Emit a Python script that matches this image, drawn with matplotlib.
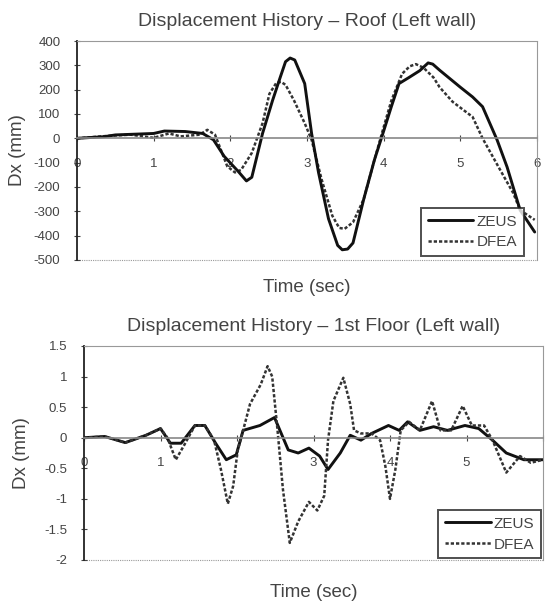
import matplotlib
matplotlib.use("Agg")
import matplotlib.pyplot as plt
from matplotlib.lines import Line2D

plt.rcParams['font.family'] = ['Liberation Sans', 'DejaVu Sans']

# ---- Roof (Left wall) ----
roof_zeus_t = [0, 0.36, 0.5, 1.0, 1.14, 1.41, 1.64, 1.78, 1.92, 2.1, 2.21, 2.28, 2.42, 2.55, 2.65, 2.72,
               2.78, 2.84, 2.97, 3.06, 3.15, 3.28, 3.4, 3.46, 3.53, 3.6, 3.74, 3.88, 3.99, 4.1, 4.2,
               4.33, 4.47, 4.58, 4.64, 4.73, 5.0, 5.16, 5.29, 5.48, 5.61, 5.78, 5.97]
roof_zeus_dx = [0, 7, 14, 20, 30, 28, 20, -6, -74, -135, -175, -160, 20, 155, 250, 315,
                330, 322, 225, 20, -140, -330, -440, -458, -455, -430, -250, -88, 20, 130, 225,
                250, 278, 310, 305, 280, 210, 170, 130, -7, -118, -295, -385]

roof_dfea_t = [0, 0.4, 0.7, 1.0, 1.2, 1.35, 1.6, 1.7, 1.8, 1.96, 2.06, 2.14, 2.28, 2.42, 2.51, 2.6,
               2.66, 2.72, 2.83, 2.97, 3.06, 3.19, 3.33, 3.42, 3.49, 3.6, 3.74, 3.88, 3.99, 4.1,
               4.24, 4.34, 4.42, 4.52, 4.65, 4.73, 4.9, 5.16, 5.29, 5.52, 5.69, 5.78, 5.97]
roof_dfea_dx = [0, 10, 15, 2, 20, 8, 15, 35, 15, -115, -140, -130, -60, 62, 183, 228,
                232, 220, 156, 62, -6, -168, -318, -368, -372, -345, -250, -88, 35, 155,
                265, 296, 305, 290, 250, 210, 150, 88, 0, -130, -225, -295, -335]

# ---- 1st Floor (Left wall) ----
floor_dfea_t = [0, 0.27, 0.54, 0.81, 1.0, 1.09, 1.2, 1.31, 1.45, 1.58, 1.7, 1.79, 1.88, 1.95, 2.01,
                2.08, 2.17, 2.31, 2.4, 2.46, 2.53, 2.6, 2.69, 2.8, 2.94, 3.05, 3.14, 3.19, 3.26,
                3.39, 3.48, 3.53, 3.62, 3.76, 3.87, 3.94, 4.0, 4.07, 4.14, 4.25, 4.39, 4.55, 4.66,
                4.8, 4.95, 5.07, 5.23, 5.34, 5.52, 5.7, 5.84, 6.0]
floor_dfea_dx = [0, 0.02, -0.08, 0.04, 0.15, 0, -0.36, -0.12, 0.2, 0.2, -0.04, -0.52, -1.08, -0.79, -0.2,
                 0.12, 0.55, 0.87, 1.17, 1.0, 0.12, -0.84, -1.72, -1.37, -1.05, -1.19, -0.95, -0.04, 0.6,
                 0.98, 0.55, 0.12, 0.07, 0.07, -0.04, -0.47, -1.0, -0.52, 0.12, 0.26, 0.12, 0.6, 0.12,
                 0.12, 0.52, 0.2, 0.2, -0.04, -0.57, -0.3, -0.41, -0.36]

floor_zeus_t = [0, 0.27, 0.54, 0.81, 1.0, 1.13, 1.27, 1.45, 1.58, 1.72, 1.86, 1.99, 2.08, 2.3, 2.49,
                2.67, 2.8, 2.94, 3.08, 3.19, 3.35, 3.48, 3.62, 3.76, 3.98, 4.12, 4.23, 4.39, 4.57,
                4.75, 4.98, 5.16, 5.34, 5.52, 5.75, 6.0]
floor_zeus_dx = [0, 0.02, -0.08, 0.04, 0.15, -0.09, -0.09, 0.2, 0.2, -0.09, -0.36, -0.28, 0.12, 0.2, 0.33,
                 -0.2, -0.25, -0.17, -0.3, -0.52, -0.25, 0.04, -0.04, 0.07, 0.2, 0.12, 0.26, 0.12, 0.18,
                 0.12, 0.2, 0.15, -0.04, -0.25, -0.36, -0.36]

roof_yticks = [-500, -400, -300, -200, -100, 0, 100, 200, 300, 400]
floor_yticks = [-2, -1.5, -1, -0.5, 0, 0.5, 1, 1.5]
floor_yticklabels = ['-2', '-1.5', '-1', '-0.5', '0', '0.5', '1', '1.5']
xticks = [0, 1, 2, 3, 4, 5, 6]

W, H = 545, 602
fig = plt.figure(figsize=(W / 100, H / 100), dpi=100)
TXT = '#444444'


def px_axes(l, t, r, b):
    return fig.add_axes([l / W, 1 - b / H, (r - l) / W, (b - t) / H])


def style(ax, ylim, yticks, yticklabels, xlabels_shown, title):
    ax.set_xlim(0, 6)
    ax.set_ylim(*ylim)
    ax.spines['bottom'].set_position(('data', 0))
    ax.spines['bottom'].set_color('#888888')
    ax.spines['bottom'].set_linewidth(1.2)
    for s in ('top', 'right'):
        ax.spines[s].set_linestyle((0, (1, 1)))
        ax.spines[s].set_color('#999999')
        ax.spines[s].set_linewidth(0.8)
    ax.spines['left'].set_color('#222222')
    ax.spines['left'].set_linewidth(1.3)
    ax.axhline(ylim[0], color='#999999', lw=0.8, ls=(0, (1, 1)), clip_on=False, zorder=1)
    ax.set_yticks(yticks)
    ax.set_yticklabels(yticklabels)
    ax.set_xticks(xticks)
    ax.set_xticklabels([str(x) if x in xlabels_shown else '' for x in xticks])
    ax.tick_params(axis='both', direction='inout', length=4, width=0.8, labelsize=9.5,
                   colors=TXT)
    ax.tick_params(axis='y', pad=10)
    ax.tick_params(axis='x', pad=12)
    ax.set_title(title, fontsize=14, color=TXT, pad=11)
    ax.set_ylabel('Dx (mm)', fontsize=13.5, color=TXT)
    ax.set_xlabel('Time (sec)', fontsize=13.5, color=TXT)


zeus_kw = dict(color='#111111', lw=2.1, solid_capstyle='round', solid_joinstyle='round')
dfea_kw = dict(color='#333333', lw=1.8, ls=(0, (1.3, 0.8)))

# Top chart
ax1 = px_axes(77, 41, 537, 260)
ax1.plot(roof_dfea_t, roof_dfea_dx, **dfea_kw, label='DFEA')
ax1.plot(roof_zeus_t, roof_zeus_dx, **zeus_kw, label='ZEUS')
style(ax1, (-500, 400), roof_yticks, [str(v) for v in roof_yticks], [0, 1, 2, 3, 4, 5, 6],
      'Displacement History \u2013 Roof (Left wall)')
ax1.xaxis.set_label_coords(0.5, -0.085)
ax1.yaxis.set_label_coords(-0.11, 0.5)

# Bottom chart
ax2 = px_axes(84, 346, 543, 560)
ax2.plot(floor_zeus_t, floor_zeus_dx, **zeus_kw, label='ZEUS')
ax2.plot(floor_dfea_t, floor_dfea_dx, **dfea_kw, label='DFEA')
style(ax2, (-2, 1.5), floor_yticks, floor_yticklabels, [0, 1, 3, 4, 5],
      'Displacement History \u2013 1st Floor (Left wall)')
ax2.xaxis.set_label_coords(0.5, -0.11)
ax2.yaxis.set_label_coords(-0.118, 0.5)

handles = [Line2D([], [], **zeus_kw), Line2D([], [], **dfea_kw)]
for ax, anchor in ((ax1, (0.975, 0.01)), (ax2, (1.0, 0.0))):
    leg = ax.legend(handles, ['ZEUS', 'DFEA'], loc='lower right', bbox_to_anchor=anchor,
                    fontsize=11, frameon=True, fancybox=False, borderaxespad=0.1,
                    handlelength=3, handletextpad=0.2, labelspacing=0.45, borderpad=0.45)
    leg.get_frame().set_edgecolor('#222222')
    leg.get_frame().set_linewidth(1.4)
    for t in leg.get_texts():
        t.set_color(TXT)

fig.savefig('out.png', dpi=100)
